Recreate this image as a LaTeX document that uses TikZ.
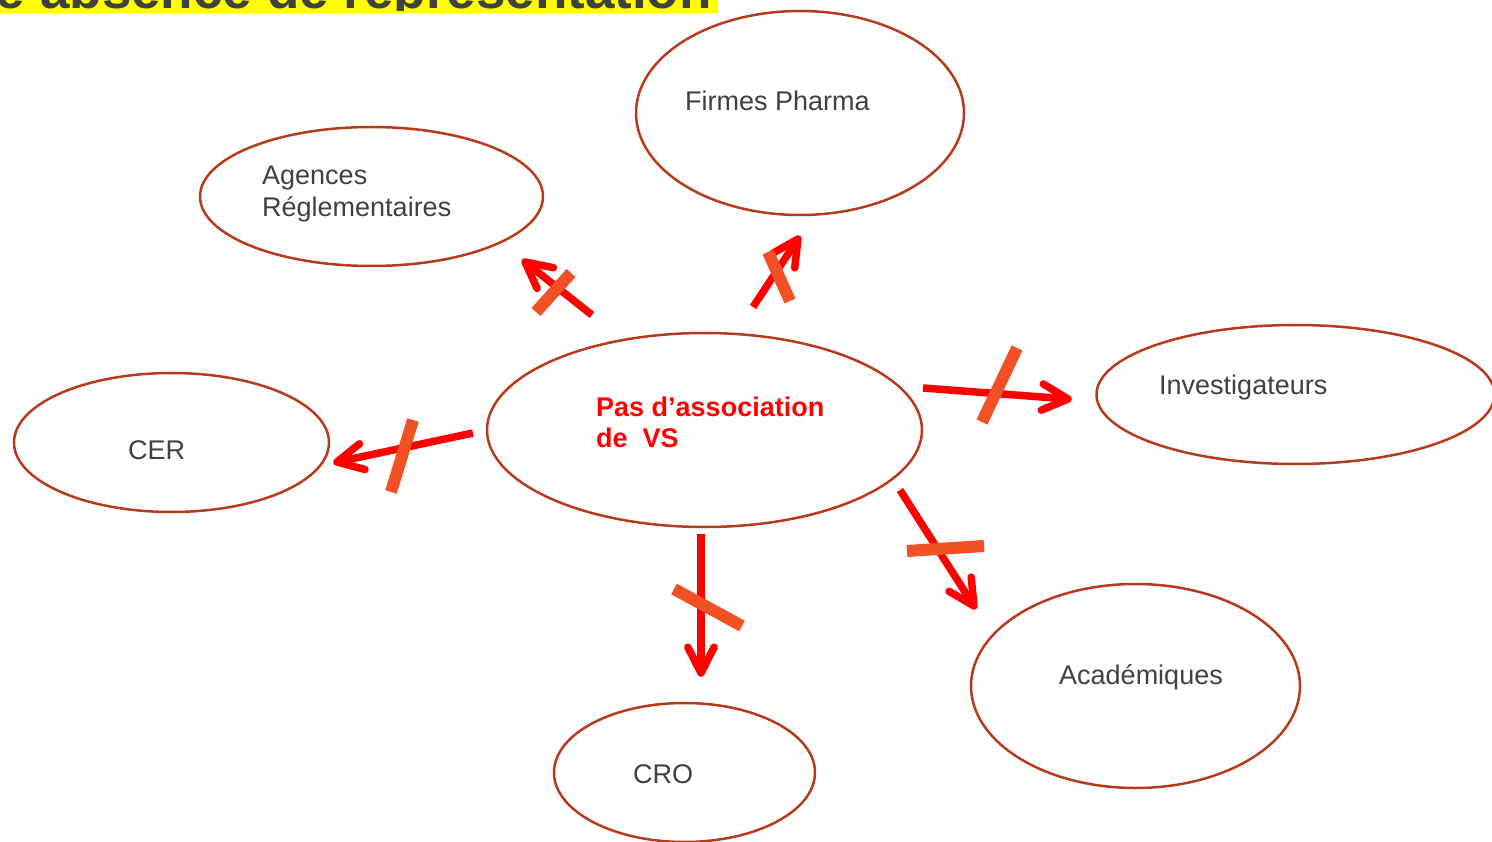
\documentclass[tikz,border=0pt]{standalone}
\usepackage{fontspec}
\setmainfont{Liberation Sans}
\usetikzlibrary{shapes.geometric,calc}
\definecolor{ellcol}{RGB}{184,58,28}
\definecolor{txtgray}{RGB}{64,64,64}
\definecolor{barcol}{RGB}{241,81,37}
\definecolor{titleyellow}{RGB}{255,255,0}
\tikzset{
  blob/.style={draw=ellcol, line width=2.5pt, ellipse, inner sep=0pt},
  lbl/.style={anchor=base west, inner sep=0pt, text=txtgray, font=\fontsize{27}{32}\selectfont},
  redlbl/.style={anchor=base west, inner sep=0pt, text=red, font=\fontsize{27}{32}\selectfont\bfseries},
  arrshaft/.style={draw=red, line width=7.5pt},
  arrhead/.style={draw=red, line width=7.5pt, line cap=round, line join=round},
  crossbar/.style={draw=barcol, line width=12pt}
}
\newcommand\redarrow[2]{%
  \draw[arrshaft] (#1) -- (#2);
  \draw[arrhead] ($(#2)!29pt!27:(#1)$) -- (#2) -- ($(#2)!29pt!-27:(#1)$);}
\begin{document}
\begin{tikzpicture}[x=1pt,y=-1pt]
\useasboundingbox (0,0) rectangle (1492,842);
\clip (0,0) rectangle (1492,842);
% title strip
\fill[titleyellow] (0,0) rectangle (718,13);
\begin{scope}
\clip (0,0) rectangle (718,11);
\node[anchor=base east, inner sep=0pt, text=txtgray, font=\fontsize{53}{60}\selectfont\bfseries] (title) at (712,9) {Cas d'une absence de représentation};
\end{scope}
% ellipses
\node[blob, minimum width=328pt, minimum height=204pt] (firmes) at (800,113) {};
\node[blob, minimum width=343pt, minimum height=139pt] (agences) at (371.5,196.5) {};
\node[blob, minimum width=435pt, minimum height=194pt] (centre) at (704.5,430) {};
\node[blob, minimum width=398pt, minimum height=139pt] (invest) at (1295.5,394.5) {};
\node[blob, minimum width=315pt, minimum height=139pt] (cer) at (171.5,442.5) {};
\node[blob, minimum width=329pt, minimum height=204pt] (acad) at (1135.5,686) {};
\node[blob, minimum width=261pt, minimum height=139pt] (cro) at (684.5,772.5) {};
% labels
\node[lbl] (tfirmes) at (685,110.5) {Firmes Pharma};
\node[lbl] (tagences) at (262,185) {\begin{tabular}[t]{@{}l@{}}Agences\\Réglementaires\end{tabular}};
\node[redlbl] (tcentre) at (596,416) {\begin{tabular}[t]{@{}l@{}}Pas d’association\\de~~VS\end{tabular}};
\node[lbl] (tinvest) at (1159,395) {Investigateurs};
\node[lbl] (tcer) at (128,459) {CER};
\node[lbl] (tacad) at (1059,684) {Académiques};
\node[lbl] (tcro) at (633,783) {CRO};
% arrow end points
\coordinate (a1s) at (592,315); \coordinate (a1e) at (525,262);
\coordinate (a2s) at (753,307); \coordinate (a2e) at (798,239);
\coordinate (a3s) at (473,433); \coordinate (a3e) at (337,462);
\coordinate (a4s) at (923,388); \coordinate (a4e) at (1068,399);
\coordinate (a5s) at (900,490); \coordinate (a5e) at (974,606);
\coordinate (a6s) at (701,534); \coordinate (a6e) at (701,673);
\redarrow{a1s}{a1e}
\redarrow{a2s}{a2e}
\redarrow{a3s}{a3e}
\redarrow{a4s}{a4e}
\redarrow{a5s}{a5e}
\redarrow{a6s}{a6e}
% crossing bars
\coordinate (c1a) at (536,312); \coordinate (c1b) at (571,273);
\coordinate (c2a) at (768,252); \coordinate (c2b) at (790,301);
\coordinate (c3a) at (413,420); \coordinate (c3b) at (391,492);
\coordinate (c4a) at (1017,348); \coordinate (c4b) at (982,422);
\coordinate (c5a) at (907,551); \coordinate (c5b) at (984,546);
\coordinate (c6a) at (674,589); \coordinate (c6b) at (742,626);
\draw[crossbar] (c1a) -- (c1b);
\draw[crossbar] (c2a) -- (c2b);
\draw[crossbar] (c3a) -- (c3b);
\draw[crossbar] (c4a) -- (c4b);
\draw[crossbar] (c5a) -- (c5b);
\draw[crossbar] (c6a) -- (c6b);
\end{tikzpicture}
\end{document}
